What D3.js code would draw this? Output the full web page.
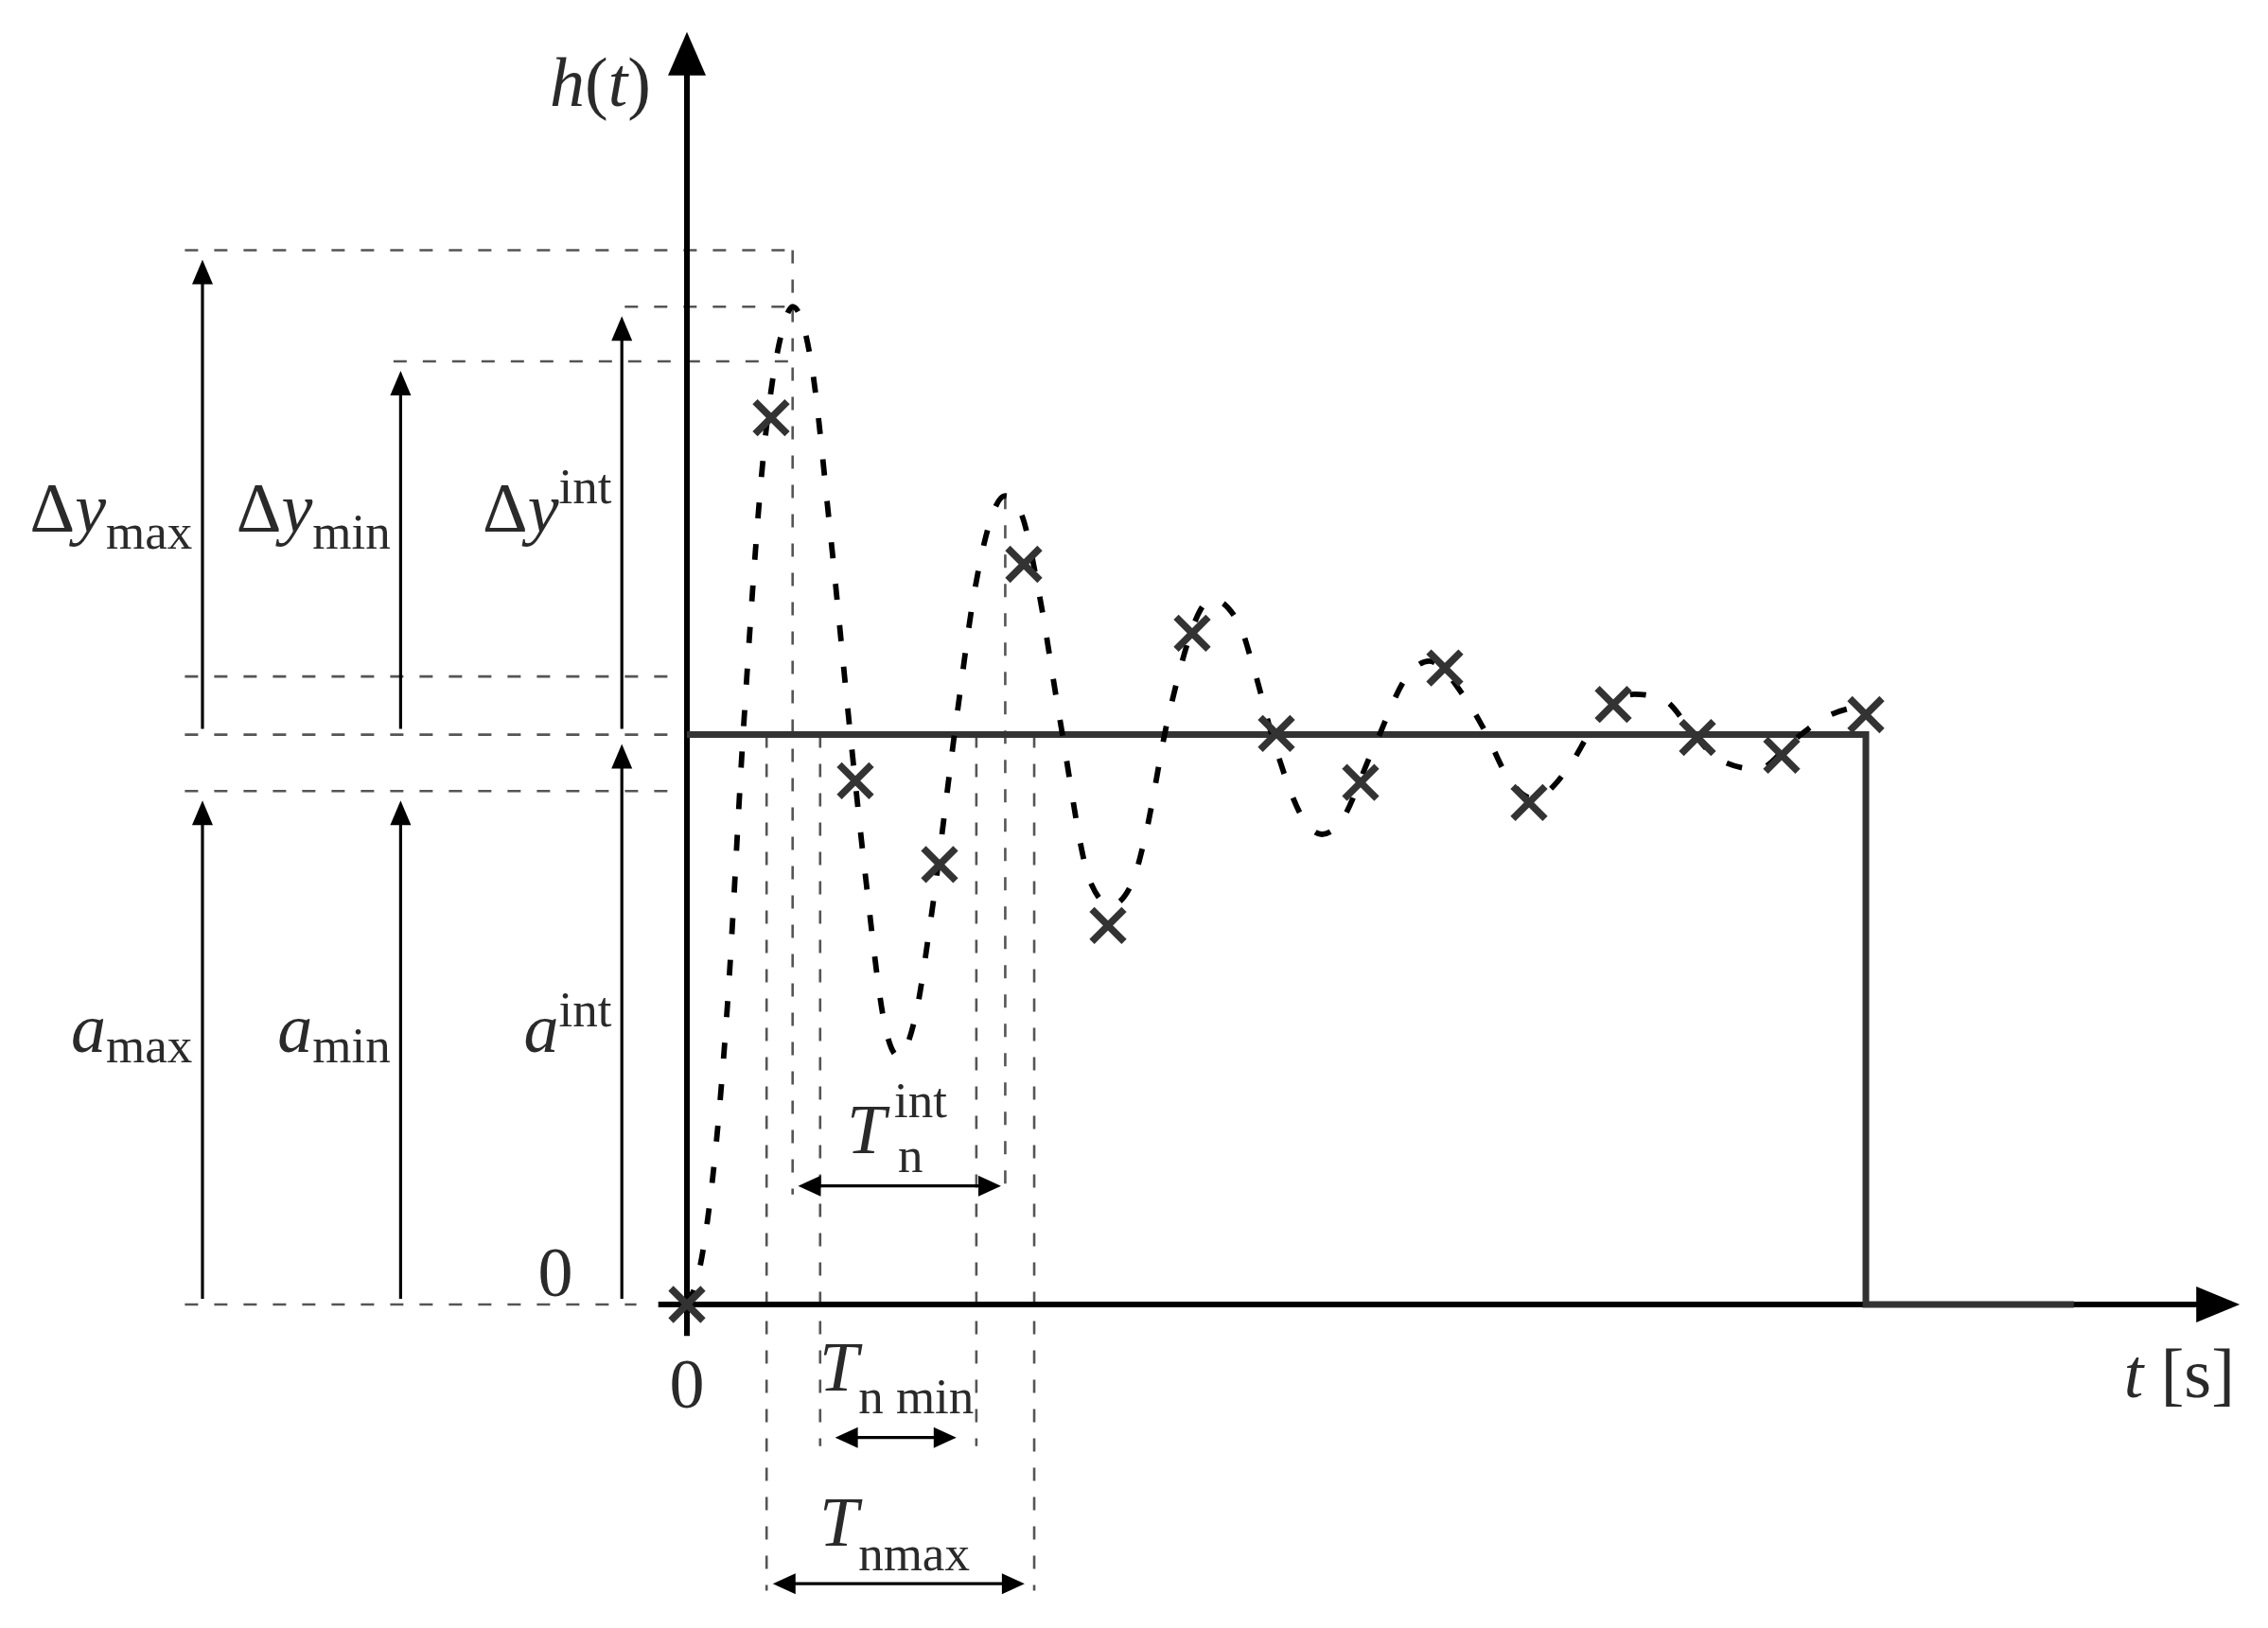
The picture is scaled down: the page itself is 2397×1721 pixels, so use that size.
<!DOCTYPE html>
<html>
<head>
<meta charset="utf-8">
<script src="https://cdn.jsdelivr.net/npm/d3@7"></script>
<style>
body { margin: 0; background: #fff; }
svg { display: block; }
text { font-family: "Liberation Serif", "DejaVu Serif", serif; fill: #2a2a2a; }
</style>
</head>
<body>
<svg id="chart" width="2397" height="1721"></svg>
<script>
// sampled response (crosses), t in sample steps, h relative to set value
var sampleT = [0, 1, 2, 3, 4, 5, 6, 7, 8, 9, 10, 11, 12, 13, 14];
var sampleH = [0, 1.556, 0.919, 0.772, 1.299, 0.665, 1.178, 1.002, 0.916, 1.117, 0.881, 1.053, 0.995, 0.964, 1.035];

// interpolated response (dashed curve)
var curveT = [0, 0.155, 0.481, 0.670, 0.910, 1.134, 1.255, 1.477, 1.700, 1.941, 2.113, 2.370, 2.508, 2.731, 2.886, 3.212, 3.418, 3.780,
  3.968, 4.174, 4.431, 4.792, 5.033, 5.290, 5.428, 5.720, 6.235, 6.561, 6.716, 6.991, 7.351, 7.540, 7.729, 8.142, 8.571, 8.811,
  9.224, 9.498, 9.705, 10.048, 10.477, 10.769, 11.250, 11.577, 11.989, 12.247, 12.710, 13.157, 13.552, 13.861];
var curveH = [0, 0.066, 0.525, 1.007, 1.492, 1.710, 1.751, 1.652, 1.358, 1.0, 0.761, 0.477, 0.436, 0.518, 0.665, 1.040, 1.254, 1.419,
  1.388, 1.254, 1.025, 0.741, 0.700, 0.741, 0.812, 1.033, 1.238, 1.193, 1.124, 0.977, 0.845, 0.825, 0.840, 0.972, 1.106, 1.129,
  1.068, 1.0, 0.936, 0.888, 0.944, 1.015, 1.071, 1.063, 0.995, 0.957, 0.939, 0.992, 1.033, 1.048];

// step (set value)
var stepT = [0, 14, 14, 16.47];
var stepH = [1, 1, 0, 0];

// levels
var hYmax = 1.85, hPeak = 1.751, hYmin = 1.655, hUp = 1.102, hSet = 1.0, hLow = 0.901, hPeak2 = 1.419;
// period marks
var tMaxL = 0.946, tPeak1 = 1.255, tMinL = 1.582, tMinR = 3.437, tPeak2 = 3.780, tMaxR = 4.124;
// arrow columns
var colMax = -5.753, colMin = -3.400, colInt = -0.773;

var svg = d3.select('#chart');
var x = d3.scaleLinear().domain([0, 14]).range([726, 1972]);
var y = d3.scaleLinear().domain([0, 1]).range([1379, 776.6]);

function head(g, px, py, dx, dy, len, wid) {
  var bx = px - dx * len, by = py - dy * len;
  var qx = -dy * wid / 2, qy = dx * wid / 2;
  g.append('path').attr('d', 'M' + px + ',' + py + 'L' + (bx + qx) + ',' + (by + qy) + 'L' + (bx - qx) + ',' + (by - qy) + 'Z')
    .attr('fill', '#000');
}

// thin dashed guides
var guides = svg.append('g').attr('stroke', '#555').attr('stroke-width', 2.6).attr('stroke-dasharray', '14,17').attr('fill', 'none');
var hGuides = [[hYmax, -5.962, tPeak1], [hPeak, -0.738, tPeak1], [hYmin, -3.485, tPeak1], [hUp, -5.962, -0.12],
  [hSet, -5.962, -0.12], [hLow, -5.962, -0.12], [0, -5.962, -0.6]];
hGuides.forEach(function (d) {
  guides.append('line').attr('x1', x(d[1])).attr('x2', x(d[2])).attr('y1', y(d[0])).attr('y2', y(d[0]));
});
var vGuides = [[tMaxL, hSet, -0.502], [tPeak1, hYmax, 0.193], [tMinL, hSet, -0.2485], [tMinR, hSet, -0.2485],
  [tPeak2, hPeak2, 0.193], [tMaxR, hSet, -0.502]];
vGuides.forEach(function (d) {
  guides.append('line').attr('x1', x(d[0])).attr('x2', x(d[0])).attr('y1', y(d[1])).attr('y2', y(d[2]));
});

// axes
var axes = svg.append('g');
var yTip = y(2.233), xTip = x(18.44);
axes.append('line').attr('x1', x(0)).attr('x2', x(0)).attr('y1', y(-0.055)).attr('y2', yTip + 40)
  .attr('stroke', '#000').attr('stroke-width', 6);
head(axes, x(0), yTip, 0, -1, 46, 40);
axes.append('line').attr('x1', x(-0.34)).attr('x2', xTip - 40).attr('y1', y(0)).attr('y2', y(0))
  .attr('stroke', '#000').attr('stroke-width', 6);
head(axes, xTip, y(0), 1, 0, 46, 38);

// step
var stepPts = stepT.map(function (t, i) { return [t, stepH[i]]; });
svg.append('path').datum(stepPts)
  .attr('d', d3.line().x(function (d) { return x(d[0]); }).y(function (d) { return y(d[1]); }))
  .attr('fill', 'none').attr('stroke', '#333').attr('stroke-width', 7);

// dashed curve
var curvePts = curveT.map(function (t, i) { return [t, curveH[i]]; });
svg.append('path').datum(curvePts)
  .attr('d', d3.line().curve(d3.curveMonotoneX).x(function (d) { return x(d[0]); }).y(function (d) { return y(d[1]); }))
  .attr('fill', 'none').attr('stroke', '#000').attr('stroke-width', 5.8).attr('stroke-dasharray', '17,27');

// crosses
var mk = svg.append('g').attr('stroke', '#333').attr('stroke-width', 7.5);
sampleT.forEach(function (t, i) {
  var cx = x(t), cy = y(sampleH[i]), s = 17;
  mk.append('line').attr('x1', cx - s).attr('y1', cy - s).attr('x2', cx + s).attr('y2', cy + s);
  mk.append('line').attr('x1', cx - s).attr('y1', cy + s).attr('x2', cx + s).attr('y2', cy - s);
});

// vertical arrows
var arr = svg.append('g');
var vArrows = [[colMax, hSet, hYmax], [colMax, 0, hLow], [colMin, hSet, hYmin], [colMin, 0, hLow], [colInt, hSet, hPeak], [colInt, 0, hSet]];
vArrows.forEach(function (d) {
  var tip = y(d[2]) + 10;
  arr.append('line').attr('x1', x(d[0])).attr('x2', x(d[0])).attr('y1', y(d[1]) - 6).attr('y2', tip + 20)
    .attr('stroke', '#000').attr('stroke-width', 3.2);
  head(arr, x(d[0]), tip, 0, -1, 26, 22);
});

// horizontal double arrows (periods)
var hArrows = [[0.208, 1.32, 3.73], [-0.2335, 1.76, 3.20], [-0.490, 1.02, 4.01]];
hArrows.forEach(function (d) {
  var yy = y(d[0]);
  arr.append('line').attr('x1', x(d[1]) + 20).attr('x2', x(d[2]) - 20).attr('y1', yy).attr('y2', yy)
    .attr('stroke', '#000').attr('stroke-width', 3.2);
  head(arr, x(d[1]), yy, -1, 0, 24, 22);
  head(arr, x(d[2]), yy, 1, 0, 24, 22);
});

// labels
var F = 74, S = 53;
function label(t, h, anchor, parts) {
  var tx = svg.append('text').attr('x', x(t)).attr('y', y(h)).attr('text-anchor', anchor).attr('font-size', F);
  parts.forEach(function (p) {
    var s = tx.append('tspan').text(p[0]);
    if (p[1]) s.attr('font-style', 'italic');
    if (p[2]) s.attr('font-size', p[2]);
    if (p[3]) s.attr('dy', p[3]);
  });
  return tx;
}
// Δy labels (end just left of arrows)
label(colMax - 0.12, 1.356, 'end', [['Δ'], ['y', 1], ['max', 0, S, 18]]);
label(colMin - 0.12, 1.356, 'end', [['Δ'], ['y', 1], ['min', 0, S, 18]]);
label(colInt - 0.12, 1.356, 'end', [['Δ'], ['y', 1], ['int', 0, S, -30]]);
// a labels
label(colMax - 0.12, 0.443, 'end', [['a', 1], ['max', 0, S, 11]]);
label(colMin - 0.12, 0.443, 'end', [['a', 1], ['min', 0, S, 11]]);
label(colInt - 0.12, 0.443, 'end', [['a', 1], ['int', 0, S, -27]]);
// zeros
label(-1.562, 0.015, 'middle', [['0']]);
label(0, -0.181, 'middle', [['0']]);
// axis titles
label(-0.427, 2.103, 'end', [['h', 1], ['('], ['t', 1], [')']]);
label(18.38, -0.163, 'end', [['t', 1], [' [s]']]);
// periods
label(1.9, 0.266, 'start', [['T', 1]]);
label(1.9, 0.266, 'start', [['int', 0, S, -38]]).attr('dx', 50);
label(1.9, 0.266, 'start', [['n', 0, S, 20]]).attr('dx', 54);
label(1.573, -0.151, 'start', [['T', 1], ['n min', 0, S, 24]]);
label(1.573, -0.423, 'start', [['T', 1], ['nmax', 0, S, 26]]);
</script>
</body>
</html>
